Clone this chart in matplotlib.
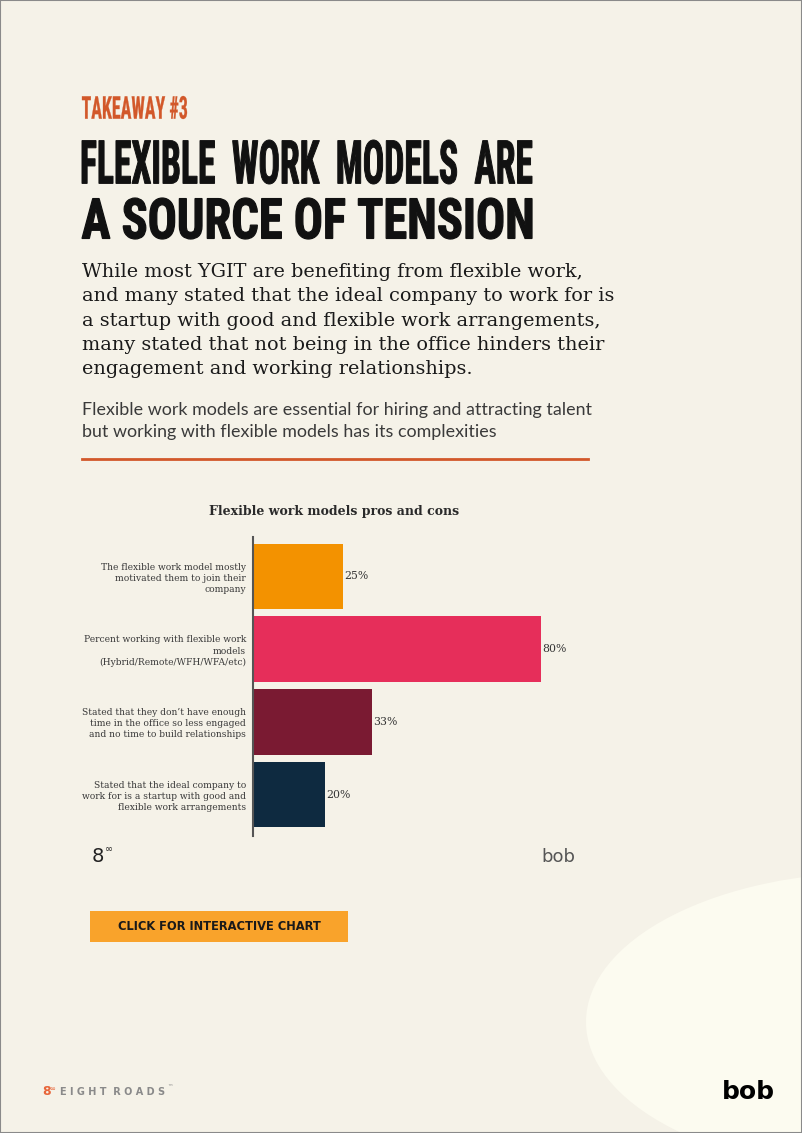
import numpy as np
import matplotlib
matplotlib.use("Agg")
import matplotlib.pyplot as plt
import matplotlib.font_manager as fm
from matplotlib.textpath import TextPath
from matplotlib.patches import PathPatch, Rectangle, Ellipse
from matplotlib.transforms import Affine2D

W, H = 802, 1133

# chart data
categories = [
    "The flexible work model mostly\nmotivated them to join their\ncompany",
    "Percent working with flexible work\nmodels\n(Hybrid/Remote/WFH/WFA/etc)",
    "Stated that they don\u2019t have enough\ntime in the office so less engaged\nand no time to build relationships",
    "Stated that the ideal company to\nwork for is a startup with good and\nflexible work arrangements",
]
values = [25, 80, 33, 20]
bar_colors = ["#F39200", "#E62E5A", "#7A1A32", "#0E2A40"]

body_lines = [
    "While most YGIT are benefiting from flexible work,",
    "and many stated that the ideal company to work for is",
    "a startup with good and flexible work arrangements,",
    "many stated that not being in the office hinders their",
    "engagement and working relationships.",
]
sub_lines = [
    "Flexible work models are essential for hiring and attracting talent",
    "but working with flexible models has its complexities",
]

BG = "#F5F2E8"
ORANGE = "#D2582A"


def pick(fams, weight="bold"):
    for f in fams:
        try:
            fm.findfont(fm.FontProperties(family=f, weight=weight), fallback_to_default=False)
            return f
        except Exception:
            pass
    return "DejaVu Sans"


narrow = pick(["Liberation Sans Narrow", "Roboto Condensed", "DejaVu Sans"])


def fx(x):
    return x / W


def fy(y):
    return 1 - y / H


fig = plt.figure(figsize=(W / 100, H / 100), dpi=100)
fig.patch.set_facecolor(BG)

# pale blob at lower right
fig.add_artist(Ellipse((fx(878), fy(1022)), 584 / W, 300 / H, transform=fig.transFigure,
                       facecolor="#FCFBF0", edgecolor="none", zorder=0))
# thin frame
fig.add_artist(Rectangle((0, 0), 1, 1, transform=fig.transFigure, fill=False,
                         edgecolor="#8a8a8a", linewidth=1.5, zorder=10))


def fit_text(s, x0, y0, x1, y1, color, stroke=0.0):
    prop = fm.FontProperties(family=narrow, weight="bold")
    tp = TextPath((0, 0), s, size=100, prop=prop)
    ext = tp.get_extents()
    sx = (x1 - x0) / ext.width
    sy = (y1 - y0) / ext.height
    tr = (Affine2D().translate(-ext.x0, -ext.y0).scale(sx, sy)
          .translate(x0, H - y1).scale(1 / W, 1 / H))
    p = PathPatch(tr.transform_path(tp), facecolor=color, edgecolor=color,
                  linewidth=stroke, transform=fig.transFigure)
    fig.add_artist(p)


fit_text("TAKEAWAY #3", 82, 96, 187, 119, ORANGE, stroke=0.2)
fit_text("FLEXIBLE  WORK  MODELS  ARE", 82, 140, 532, 184, "#111111", stroke=0.7)
fit_text("A SOURCE OF TENSION", 82, 198, 532, 239, "#111111", stroke=0.9)

for i, line in enumerate(body_lines):
    fig.text(fx(82), fy(277 + i * 24.3), line, fontsize=13.9, family="DejaVu Serif",
             color="#1a1a1a", va="baseline", ha="left")

for i, line in enumerate(sub_lines):
    fig.text(fx(82), fy(415 + i * 22), line, fontsize=12.9, family="Lato",
             color="#3a3a3a", va="baseline", ha="left")

fig.add_artist(plt.Line2D([fx(82), fx(588)], [fy(459), fy(459)], transform=fig.transFigure,
                          color=ORANGE, linewidth=2))

# chart
fig.text(fx(334), fy(511), "Flexible work models pros and cons", fontsize=9,
         family="DejaVu Serif", fontweight="bold", color="#2a2a2a", ha="center", va="center")

ax = fig.add_axes([fx(253), fy(836), 360 / W, 299 / H])
ax.set_facecolor("none")
pos = np.arange(len(values))
ax.barh(pos, values, height=0.9, color=bar_colors)
ax.set_xlim(0, 100)
ax.set_ylim(3.57, -0.54)
ax.set_yticks(pos)
ax.set_yticklabels(categories, family="DejaVu Serif", fontsize=6.6, color="#3a3a3a",
                   linespacing=1.3)
ax.set_xticks([])
ax.tick_params(axis="y", length=0, pad=5)
for s in ["top", "right", "bottom"]:
    ax.spines[s].set_visible(False)
ax.spines["left"].set_color("#555555")
ax.spines["left"].set_linewidth(1.5)
for p, v in zip(pos, values):
    ax.text(v + 0.4, p, f"{v}%", va="center", ha="left", fontsize=7.8,
            family="DejaVu Serif", color="#333333")

# chart logos
fig.text(fx(92), fy(862), "8", fontsize=14, family="DejaVu Sans", color="#222222",
         va="baseline", ha="left")
fig.text(fx(105), fy(852), "\u221e", fontsize=7, family="DejaVu Sans", color="#222222",
         va="baseline", ha="left")
fig.text(fx(541), fy(862), "bob", fontsize=13, family="DejaVu Sans", color="#555555",
         va="baseline", ha="left")

# button
fig.add_artist(Rectangle((fx(90), fy(942)), 258 / W, 31 / H, transform=fig.transFigure,
                         facecolor="#F9A32B", edgecolor="none"))
fig.text(fx(219), fy(926), "CLICK FOR INTERACTIVE CHART", fontsize=8.3, family="DejaVu Sans",
         fontweight="bold", color="#1a1a1a", ha="center", va="center")

# footer
fig.text(fx(42), fy(1095), "8", fontsize=9, family="DejaVu Sans", fontweight="bold",
         color="#E8663A", va="baseline")
fig.text(fx(49), fy(1091), "\u221e", fontsize=5, family="DejaVu Sans", color="#E8663A",
         va="baseline")
fig.text(fx(60), fy(1095), "E I G H T  R O A D S", fontsize=7, family="DejaVu Sans",
         fontweight="bold", color="#8a8a8a", va="baseline")
fig.text(fx(167), fy(1089), "\u2122", fontsize=4, family="DejaVu Sans", color="#8a8a8a",
         va="baseline")
fig.text(fx(722), fy(1099), "bob", fontsize=18, family="DejaVu Sans", fontweight="bold",
         color="#000000", va="baseline")

fig.savefig("out.png", dpi=100, facecolor=BG)
